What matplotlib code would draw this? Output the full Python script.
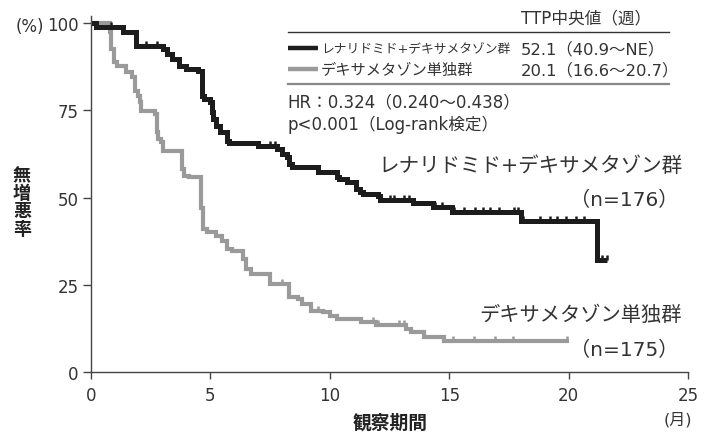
import numpy as np
import matplotlib.pyplot as plt
from matplotlib.path import Path

plt.rcParams['font.family'] = ['DejaVu Sans', 'Noto Sans CJK JP']

# レナリドミド+デキサメタゾン群 (n=176)
len_t = [0, 0.2, 1.35, 1.9, 3.0, 3.2, 3.4, 3.7, 4.0, 4.5, 4.65, 4.75, 5.0, 5.05, 5.1,
         5.25, 5.4, 5.7, 5.8, 7.0, 7.8, 8.0, 8.2, 8.3, 8.4, 9.5, 10.3, 10.4, 10.7,
         11.1, 11.25, 11.4, 12.0, 12.1, 13.5, 14.3, 15.1, 18.0, 21.2]
len_s = [100, 98.9, 97.4, 93.4, 92.5, 91.1, 89.7, 87.7, 86.8, 86.2, 79.0, 78.2, 77.4, 74.5, 72.5,
         70.5, 68.8, 66.2, 65.7, 64.8, 63.9, 62.5, 61.6, 59.6, 58.7, 57.3, 55.9, 55.3, 54.4,
         52.4, 51.6, 51.0, 50.4, 49.3, 48.4, 47.3, 45.8, 43.3, 32.0]
len_end = 21.6
len_cens = [0.85, 2.3, 2.75, 7.5, 7.7, 11.3, 12.5, 12.7, 13.1, 13.3, 14.4, 14.7,
            15.2, 15.6, 16.1, 16.4, 16.7, 17.1, 17.7, 17.9, 18.1, 18.8, 19.2, 19.5,
            19.9, 20.3, 20.65, 21.4, 21.6]

# デキサメタゾン単独群 (n=175)
dex_t = [0, 0.8, 0.85, 0.95, 1.1, 1.45, 1.7, 1.85, 1.95, 2.05, 2.1, 2.7, 2.75, 2.8, 2.95,
         3.0, 3.8, 3.9, 4.1, 4.6, 4.7, 4.85, 5.25, 5.5, 5.7, 5.9, 6.35, 6.5, 6.7, 7.5,
         8.3, 8.65, 8.85, 9.2, 9.7, 10.0, 10.3, 11.3, 11.95, 13.2, 13.4, 13.95, 14.8]
dex_s = [100, 97.4, 92.5, 88.8, 87.7, 86.0, 84.5, 80.5, 79.1, 77.4, 74.9, 73.9, 68.8, 66.8, 65.9,
         63.4, 58.2, 56.2, 55.9, 47.0, 41.0, 40.1, 39.0, 37.5, 35.2, 34.7, 32.4, 29.5, 28.1, 25.2,
         21.5, 20.9, 19.5, 17.5, 17.2, 16.0, 15.2, 14.3, 13.5, 12.3, 11.5, 10.0, 8.9]
dex_end = 20.0
dex_cens = [8.0, 9.5, 11.8, 12.0, 12.9, 13.1, 15.15, 16.05, 16.9, 17.65, 19.95]

xticks = [0, 5, 10, 15, 20, 25]
yticks = [0, 25, 50, 75, 100]

fig = plt.figure(figsize=(7.05, 4.35), dpi=100)
ax = fig.add_axes([0.129, 0.1425, 0.847, 0.818])

# censor tick: short vertical stroke pointing up from the curve
up_tick = Path([(0, 0), (0, 1)], [Path.MOVETO, Path.LINETO])


def km(t, s, end, cens, color, lw):
    tt = list(t) + [end]
    ss = list(s) + [s[-1]]
    ax.step(tt, ss, where='post', color=color, lw=lw, solid_joinstyle='miter',
            solid_capstyle='butt', zorder=3)
    idx = np.searchsorted(t, cens, side='right') - 1
    cy = np.array(s)[idx]
    ax.plot(cens, cy, ls='none', marker=up_tick, markersize=7, mew=1.8,
            color=color, zorder=3)


km(dex_t, dex_s, dex_end, dex_cens, '#9a9a9a', 3.0)
km(len_t, len_s, len_end, len_cens, '#1c1c1c', 3.6)

ax.set_xlim(0, 25)
ax.set_ylim(0, 102)
ax.set_xticks(xticks)
ax.set_yticks(yticks)
for side in ['top', 'right']:
    ax.spines[side].set_visible(False)
for side in ['left', 'bottom']:
    ax.spines[side].set_color('#444444')
    ax.spines[side].set_linewidth(1.0)
ax.spines['bottom'].set_bounds(0, 25)
ax.tick_params(axis='both', direction='out', color='#444444', width=1.0,
               labelsize=12, labelcolor='#333333')
ax.tick_params(axis='y', length=6, pad=3)
ax.tick_params(axis='x', length=5, pad=5)

txt = '#333333'
fig.text(44 / 705, 1 - 27 / 435, '(%)', ha='right', va='center', fontsize=12, color=txt)
fig.text(22 / 705, 1 - 203 / 435, '無\n増\n悪\n率', ha='center', va='center',
         fontsize=13, fontweight='bold', linespacing=1.0, color='#222222')
fig.text(390 / 705, 1 - 423 / 435, '観察期間', ha='center', va='center',
         fontsize=13.5, fontweight='bold', color='#222222')
fig.text(692 / 705, 1 - 420 / 435, '(月)', ha='right', va='center', fontsize=11.5, color=txt)

# legend table
ax.plot([8.24, 24.2], [97.4, 97.4], color='#333333', lw=1.0, clip_on=False)
ax.plot([8.24, 24.2], [82.5, 82.5], color='#888888', lw=1.6, clip_on=False)
ax.plot([8.24, 9.5], [92.8, 92.8], color='#1c1c1c', lw=3.2, solid_capstyle='butt')
ax.plot([8.24, 9.5], [86.8, 86.8], color='#9a9a9a', lw=3.2, solid_capstyle='butt')
ax.text(18.0, 101.7, 'TTP中央値（週）', ha='left', va='center', fontsize=12, color=txt, clip_on=False)
ax.text(9.62, 92.8, 'レナリドミド+デキサメタゾン群', ha='left', va='center', fontsize=9.2, color=txt)
ax.text(9.62, 86.8, 'デキサメタゾン単独群', ha='left', va='center', fontsize=11, color=txt)
ax.text(18.0, 92.8, '52.1（40.9〜NE）', ha='left', va='center', fontsize=11.8, color=txt)
ax.text(18.0, 86.8, '20.1（16.6〜20.7）', ha='left', va='center', fontsize=11.8, color=txt)
ax.text(8.24, 77.7, 'HR：0.324（0.240〜0.438）', ha='left', va='center', fontsize=12, color=txt)
ax.text(8.24, 71.1, 'p<0.001（Log-rank検定）', ha='left', va='center', fontsize=12, color=txt)

# group labels
ax.text(24.75, 59.3, 'レナリドミド+デキサメタゾン群', ha='right', va='center', fontsize=14.8, color=txt)
ax.text(24.6, 49.6, '（n=176）', ha='right', va='center', fontsize=14.5, color=txt)
ax.text(24.75, 16.6, 'デキサメタゾン単独群', ha='right', va='center', fontsize=14.6, color=txt)
ax.text(24.6, 6.6, '（n=175）', ha='right', va='center', fontsize=14.5, color=txt)

fig.savefig('out.png', dpi=100)
